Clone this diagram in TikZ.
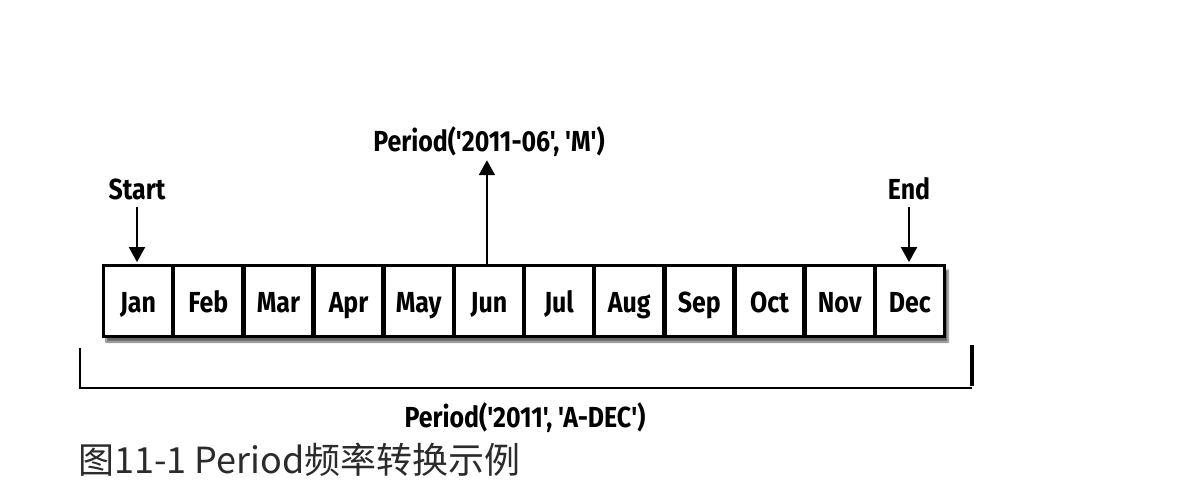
\documentclass[tikz,border=0pt]{standalone}
\usepackage{fontspec}
\newfontfamily\labfont[FakeStretch=0.86]{Fira Sans}
\newfontfamily\cjk{Noto Sans CJK SC}
\usetikzlibrary{arrows.meta,shadows.blur}
\definecolor{captiongray}{HTML}{2B2B2B}
\begin{document}
\begin{tikzpicture}[x=1pt,y=-1pt]
  \useasboundingbox (0,0) rectangle (1186,496);
  %
  \tikzstyle{mon} = [draw=black, line width=2.2pt, fill=white, minimum width=67.97pt, minimum height=69.8pt, inner sep=0pt, outer sep=0pt, text height=24pt, text depth=2pt, font=\labfont\bfseries\fontsize{29}{32}\selectfont]
  \tikzstyle{lab} = [inner sep=1pt, font=\labfont\bfseries\fontsize{29}{32}\selectfont]
  \tikzstyle{pointer} = [line width=2pt, shorten >=4pt, -{Triangle[width=16pt,length=15pt]}]
  \matrix[row sep=0pt, column sep=0pt, inner sep=0pt, outer sep=0pt, draw, line width=2.2pt, fill=white,
          blur shadow={shadow xshift=3pt, shadow yshift=-5pt, shadow blur steps=6, shadow opacity=60}] (year) at (524,301)
  {
    \node[mon] (jan) {Jan}; & \node[mon] (feb) {Feb}; & \node[mon] (mar) {Mar}; &
    \node[mon] (apr) {Apr}; & \node[mon] (may) {May}; & \node[mon] (jun) {Jun}; &
    \node[mon] (jul) {Jul}; & \node[mon] (aug) {Aug}; & \node[mon] (sep) {Sep}; &
    \node[mon] (oct) {Oct}; & \node[mon] (nov) {Nov}; & \node[mon] (dec) {Dec}; \\
  };
  % labels above the months
  \node[lab] (start) at (137,189) {Start};
  \node[lab] (end) at (909,189) {End};
  \node[lab] (pmonth) at (489,142) {Period('2011-06', 'M')};
  \draw[pointer] ([yshift=-6pt]start.south) -- (start.south |- jan.north);
  \draw[pointer] ([yshift=-6pt]end.south) -- (end.south |- dec.north);
  \draw[pointer, shorten >=2pt] ([xshift=-2pt]jun.north) -- ([xshift=-2pt]jun.north |- pmonth.south);
  % bracket for the whole year
  \coordinate (bl) at (80,348);
  \coordinate (br) at (972,345);
  \draw[line width=1.6pt] (bl) -- (bl |- 0,388) -- (br |- 0,388);
  \draw[line width=4pt] (br) -- ([yshift=2pt]br |- 0,388);
  \node[lab] (pyear) at (525,418) {Period('2011', 'A-DEC')};
  % caption
  \node[anchor=west, inner sep=0pt, text=captiongray, font=\cjk\fontsize{36}{40}\selectfont] (caption) at (78,460) {图11-1 Period频率转换示例};
\end{tikzpicture}
\end{document}
